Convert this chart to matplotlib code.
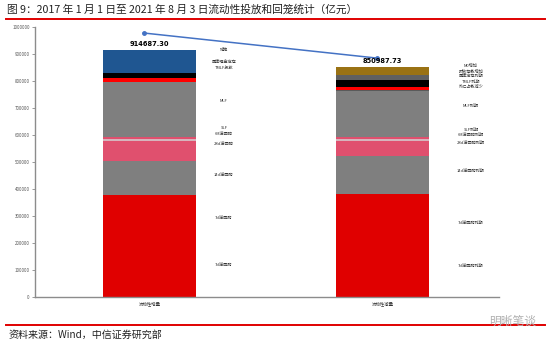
import numpy as np
import matplotlib.pyplot as plt
from matplotlib.lines import Line2D

plt.rcParams['font.family'] = ['Noto Sans CJK SC', 'DejaVu Sans']

# 数据（亿元）
categories = ['流动性增量', '流动性减量']

inject_names = ['7d逆回购', '7d逆回购', '14d逆回购', '28d逆回购', '6M逆回购', 'SLF',
                'MLF', 'TMLF投放', '国库现金定存', '降准']
inject_values = [207000, 170800, 125900, 73000, 7400, 9600, 201500, 14800, 20700, 83987]

drain_names = ['7d逆回购到期', '7d逆回购到期', '14d逆回购到期', '28d逆回购到期', '6M逆回购到期',
               'SLF到期', 'MLF到期', '外汇占款减少', 'TMLF到期', '国库定存到期', '财政存款增加', 'M0增加']
drain_values = [220000, 160400, 141900, 55600, 7400, 8500, 170400, 2000, 12600, 23300, 19600, 29288]

totals = [914687.30, 850987.73]
line_values = [977800, 885000]

# 标签位置（数据坐标）
inject_label_y = [118500, 292600, 451900, 566700, 603800, 626000, 726000, 848200, 866700, 914900]
drain_label_y = [114800, 274100, 466700, 570400, 600000, 618600, 707500, 777800, 796400, 818600, 837100, 855600]

inject_colors = ['#e00000', '#e00000', '#7f7f7f', '#e0506e', '#d6b4bc', '#e0506e',
                 '#7f7f7f', '#ff0000', '#000000', '#1f5691']
drain_colors = ['#e00000', '#e00000', '#7f7f7f', '#e0506e', '#d6b4bc', '#e0506e',
                '#7f7f7f', '#5a5a5a', '#ff0000', '#000000', '#606060', '#9a7214']

fig = plt.figure(figsize=(5.5, 3.46), dpi=100)
ax = fig.add_axes([0.064, 0.1416, 0.843, 0.7804])

x = np.arange(len(categories))
width = 0.4

bottom = 0
for v, c in zip(inject_values, inject_colors):
    ax.bar(x[0], v, width, bottom=bottom, color=c, linewidth=0)
    bottom += v
bottom = 0
for v, c in zip(drain_values, drain_colors):
    ax.bar(x[1], v, width, bottom=bottom, color=c, linewidth=0)
    bottom += v

# 折线
ax.plot(x - 0.025, line_values, color='#4472c4', lw=1.1, marker='o', ms=2.5)

# 总量标签
for xi, t in zip(x, totals):
    ax.annotate(f'{t:.2f}', (xi, t), xytext=(0, 2), textcoords='offset points',
                ha='center', va='bottom', fontsize=4.8, fontweight='bold',
                family=['DejaVu Sans'])

# 分项标签
for name, yv in zip(inject_names, inject_label_y):
    ax.text(0.32, yv, name, ha='center', va='center', fontsize=3, color='#333333')
for name, yv in zip(drain_names, drain_label_y):
    ax.text(1.38, yv, name, ha='center', va='center', fontsize=3, color='#333333')

ax.set_xlim(-0.49, 1.5)
ax.set_ylim(0, 1000000)
ax.set_yticks(np.arange(0, 1000001, 100000))
ax.set_yticklabels([str(v) for v in range(0, 1000001, 100000)], fontsize=3.2, color='#555555')
ax.set_xticks(x)
ax.set_xticklabels(categories, fontsize=3.2, color='#333333')
ax.tick_params(axis='y', length=2, width=0.6, color='#888888', pad=2)
ax.tick_params(axis='x', length=0, pad=3)
for s in ['top', 'right']:
    ax.spines[s].set_visible(False)
for s in ['left', 'bottom']:
    ax.spines[s].set_color('#8c8c8c')
    ax.spines[s].set_linewidth(1.0)

# 标题与来源
fig.text(0.012, 0.972, '图 9：2017 年 1 月 1 日至 2021 年 8 月 3 日流动性投放和回笼统计（亿元）',
         fontsize=7.7, ha='left', va='center', color='#222222', fontweight='medium')
fig.add_artist(Line2D([0.010, 0.990], [0.945, 0.945], color='#e00000', lw=1.4))
fig.add_artist(Line2D([0.010, 0.990], [0.062, 0.062], color='#e00000', lw=1.4))
fig.text(0.015, 0.032, '资料来源：Wind，中信证券研究部', fontsize=7.2, ha='left', va='center',
         color='#222222')
fig.text(0.975, 0.072, '明晰笔谈', fontsize=8.5, ha='right', va='center', color='#b0b0b0')

fig.savefig('out.png', dpi=100)
